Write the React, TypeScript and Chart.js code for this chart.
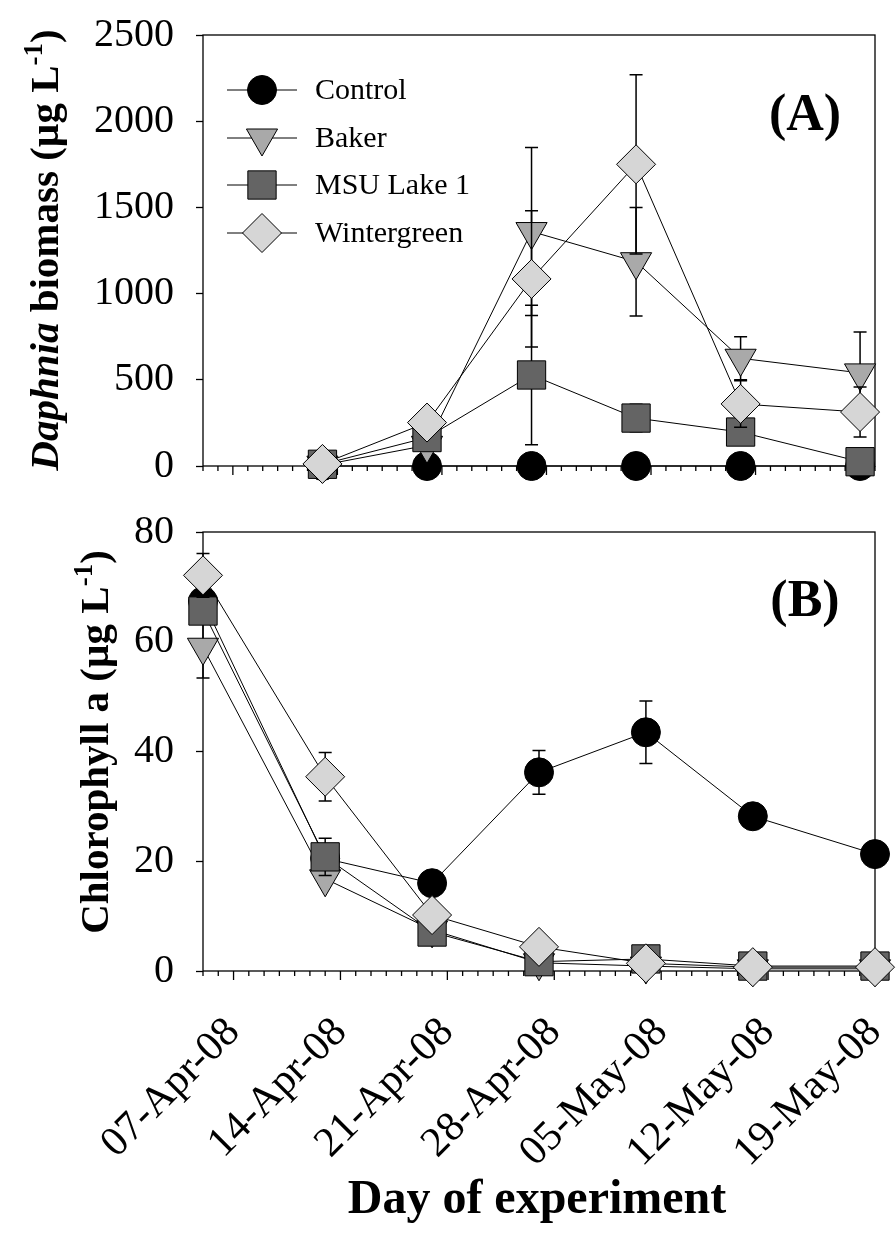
import React, { useEffect, useRef } from 'react';
import { Chart, registerables } from 'chart.js';
import { drawPoint } from 'chart.js/helpers';

Chart.register(...registerables);

const FONT = "'Liberation Serif', 'Times New Roman', serif";

const seriesNames = ['Control', 'Baker', 'MSU Lake 1', 'Wintergreen'];

// Panel A: Daphnia biomass (µg L-1), x = day since 05-Apr-08
const daysA = [8, 15, 22, 29, 36, 44];
const controlA = [0, 0, 0, 0, 0, 0];
const bakerA = [5, 120, 1360, 1185, 625, 540];
const msuA = [10, 165, 528, 278, 197, 25];
const winterA = [12, 252, 1085, 1750, 360, 313];
const controlAErr = [0, 0, 0, 0, 0, 0];
const bakerAErr = [0, 0, 487, 315, 125, 237];
const msuAErr = [0, 0, 405, 80, 30, 0];
const winterAErr = [0, 0, 395, 520, 135, 145];

// Panel B: Chlorophyll a (µg L-1)
const daysB = [0, 8, 15, 22, 29, 36, 44];
const controlB = [67.4, 20.5, 16.0, 36.2, 43.5, 28.2, 21.3];
const bakerB = [59.0, 16.8, 7.5, 1.5, 0.9, 0.4, 0.4];
const msuB = [65.6, 20.8, 7.1, 1.7, 2.2, 0.9, 0.9];
const winterB = [72.1, 35.4, 10.2, 4.4, 1.4, 0.7, 0.7];
const controlBErr = [0, 0, 0, 4.0, 5.7, 0, 0];
const bakerBErr = [5.6, 0, 0, 0, 0, 0, 0];
const msuBErr = [0, 3.4, 0, 0, 0, 0, 0];
const winterBErr = [4.0, 4.4, 0, 0, 0, 0, 0];

const tickDays = [2, 9, 16, 23, 30, 37, 44];
const tickLabels = ['07-Apr-08', '14-Apr-08', '21-Apr-08', '28-Apr-08', '05-May-08', '12-May-08', '19-May-08'];

const yTicksA = [0, 500, 1000, 1500, 2000, 2500];
const yTicksB = [0, 20, 40, 60, 80];

const markerStyles = [
  { pointStyle: 'circle', radius: 14.5, rotation: 0, fill: '#000000' },
  { pointStyle: 'triangle', radius: 18, rotation: 180, fill: '#a9a9a9' },
  { pointStyle: 'rect', radius: 20, rotation: 0, fill: '#646464' },
  { pointStyle: 'rectRot', radius: 19.5, rotation: 0, fill: '#d6d6d6' },
];

function makeDatasets(days: number[], series: number[][], errs: number[][]) {
  return series.map((vals, i) => ({
    label: seriesNames[i],
    data: days.map((d, j) => ({ x: d, y: vals[j] })),
    errors: errs[i],
    borderColor: '#000',
    borderWidth: 1,
    pointStyle: markerStyles[i].pointStyle,
    pointRotation: markerStyles[i].rotation,
    pointRadius: markerStyles[i].radius,
    pointHoverRadius: markerStyles[i].radius,
    pointBackgroundColor: markerStyles[i].fill,
    pointBorderColor: '#000',
    pointBorderWidth: 1,
    fill: false,
    tension: 0,
    clip: false,
    order: 4 - i,
  }));
}

const errorBarPlugin = {
  id: 'errorBars',
  beforeDatasetDraw(chart: any, args: any) {
    const ds = chart.data.datasets[args.index];
    const errs = ds.errors as number[];
    if (!errs) return;
    const ctx = chart.ctx;
    const xs = chart.scales.x;
    const ys = chart.scales.y;
    ctx.save();
    ctx.strokeStyle = '#000';
    ctx.lineWidth = 1.5;
    ds.data.forEach((p: any, j: number) => {
      const e = errs[j];
      if (!e) return;
      const px = xs.getPixelForValue(p.x);
      const yt = ys.getPixelForValue(p.y + e);
      const yb = ys.getPixelForValue(Math.max(p.y - e, 0));
      ctx.beginPath();
      ctx.moveTo(px, yt);
      ctx.lineTo(px, yb);
      ctx.moveTo(px - 6.5, yt);
      ctx.lineTo(px + 6.5, yt);
      ctx.moveTo(px - 6.5, yb);
      ctx.lineTo(px + 6.5, yb);
      ctx.stroke();
    });
    ctx.restore();
  },
};

type Run = { text: string; font: string; dy?: number };

function drawRotatedRuns(ctx: CanvasRenderingContext2D, runs: Run[], cx: number, cy: number) {
  ctx.save();
  ctx.translate(cx, cy);
  ctx.rotate(-Math.PI / 2);
  let total = 0;
  runs.forEach((r) => {
    ctx.font = r.font;
    total += ctx.measureText(r.text).width;
  });
  let x = -total / 2;
  ctx.textAlign = 'left';
  ctx.textBaseline = 'alphabetic';
  ctx.fillStyle = '#000';
  runs.forEach((r) => {
    ctx.font = r.font;
    ctx.fillText(r.text, x, r.dy || 0);
    x += ctx.measureText(r.text).width;
  });
  ctx.restore();
}

function makeDecorPlugin(opts: {
  legend: boolean;
  panelLabel: string;
  labelY: number;
  titleRuns: Run[];
  titleX: number;
  titleY: number;
  xTitle?: string;
}) {
  return {
    id: 'decor',
    beforeDatasetsDraw(chart: any) {
      const { ctx, chartArea } = chart;
      const xs = chart.scales.x;
      ctx.save();
      ctx.strokeStyle = '#000';
      ctx.lineWidth = 1.3;
      ctx.strokeRect(chartArea.left, chartArea.top, chartArea.right - chartArea.left, chartArea.bottom - chartArea.top);
      ctx.beginPath();
      for (let d = Math.ceil(xs.min); d <= xs.max; d++) {
        const px = xs.getPixelForValue(d);
        const major = tickDays.includes(d);
        ctx.moveTo(px, chartArea.bottom);
        ctx.lineTo(px, chartArea.bottom + (major ? 9 : 5));
      }
      ctx.stroke();
      ctx.restore();
    },
    afterDraw(chart: any) {
      const { ctx } = chart;
      ctx.save();
      // panel label
      ctx.fillStyle = '#000';
      ctx.font = `bold 52px ${FONT}`;
      ctx.textAlign = 'center';
      ctx.textBaseline = 'middle';
      ctx.fillText(opts.panelLabel, 805, opts.labelY);
      // y title
      drawRotatedRuns(ctx, opts.titleRuns, opts.titleX, opts.titleY);
      // x title
      if (opts.xTitle) {
        ctx.font = `bold 48px ${FONT}`;
        ctx.textAlign = 'center';
        ctx.textBaseline = 'alphabetic';
        ctx.fillText(opts.xTitle, 537, chart.height - 24);
      }
      // legend
      if (opts.legend) {
        const ys = [90, 138, 185, 233];
        seriesNames.forEach((name, i) => {
          const y = ys[i];
          ctx.strokeStyle = '#000';
          ctx.lineWidth = 1;
          ctx.beginPath();
          ctx.moveTo(227, y);
          ctx.lineTo(297, y);
          ctx.stroke();
          const st = markerStyles[i];
          ctx.fillStyle = st.fill;
          ctx.strokeStyle = '#000';
          ctx.lineWidth = 1;
          drawPoint(ctx, { pointStyle: st.pointStyle as any, rotation: st.rotation, radius: st.radius, borderWidth: 1 }, 262, y);
          ctx.fillStyle = '#000';
          ctx.font = `30px ${FONT}`;
          ctx.textAlign = 'left';
          ctx.textBaseline = 'middle';
          ctx.fillText(name, 315, y + 1);
        });
      }
      ctx.restore();
    },
  };
}

function yAxis(min: number, max: number, ticks: number[], width: number) {
  return {
    type: 'linear',
    min,
    max,
    afterBuildTicks: (scale: any) => {
      scale.ticks = ticks.map((v) => ({ value: v }));
    },
    afterFit: (scale: any) => {
      scale.width = width;
      scale.paddingTop = 0;
      scale.paddingBottom = 0;
      scale.paddingLeft = 0;
      scale.paddingRight = 0;
    },
    ticks: {
      color: '#000',
      font: { family: FONT, size: 40 },
      padding: 22,
      callback: (v: any) => String(v),
    },
    grid: {
      display: true,
      drawOnChartArea: false,
      drawTicks: true,
      tickLength: 7,
      tickColor: '#000',
      tickWidth: 1.3,
      color: '#000',
    },
    border: { display: false },
  };
}

function makeTopConfig(): any {
  return {
    type: 'line',
    data: {
      datasets: makeDatasets(daysA, [controlA, bakerA, msuA, winterA], [controlAErr, bakerAErr, msuAErr, winterAErr]),
    },
    options: {
      animation: false,
      responsive: true,
      maintainAspectRatio: false,
      layout: { padding: { left: 0, right: 11, top: 35, bottom: 0 } },
      plugins: { legend: { display: false }, tooltip: { enabled: false } },
      scales: {
        x: {
          type: 'linear',
          min: 0,
          max: 45,
          ticks: { display: false },
          grid: { display: false, drawTicks: false },
          border: { display: false },
          afterFit: (scale: any) => {
            scale.height = 24;
            scale.paddingLeft = 0;
            scale.paddingRight = 0;
            scale.paddingTop = 0;
            scale.paddingBottom = 0;
          },
        },
        y: yAxis(0, 2500, yTicksA, 203),
      },
    },
    plugins: [
      errorBarPlugin,
      makeDecorPlugin({
        legend: true,
        panelLabel: '(A)',
        labelY: 117,
        titleX: 58,
        titleY: 250,
        titleRuns: [
          { text: 'Daphnia', font: `italic bold 41px ${FONT}` },
          { text: ' biomass (µg L', font: `bold 41px ${FONT}` },
          { text: '-1', font: `bold 27px ${FONT}`, dy: -16 },
          { text: ')', font: `bold 41px ${FONT}` },
        ],
      }),
    ],
  };
}

function makeBottomConfig(): any {
  return {
    type: 'line',
    data: {
      datasets: makeDatasets(daysB, [controlB, bakerB, msuB, winterB], [controlBErr, bakerBErr, msuBErr, winterBErr]),
    },
    options: {
      animation: false,
      responsive: true,
      maintainAspectRatio: false,
      layout: { padding: { left: 0, right: 10, top: 42, bottom: 0 } },
      plugins: { legend: { display: false }, tooltip: { enabled: false } },
      scales: {
        x: {
          type: 'linear',
          min: 0,
          max: 44,
          afterBuildTicks: (scale: any) => {
            scale.ticks = tickDays.map((v) => ({ value: v }));
          },
          ticks: {
            autoSkip: false,
            minRotation: 45,
            maxRotation: 45,
            color: '#000',
            font: { family: FONT, size: 42 },
            padding: 37,
            callback: (_v: any, i: number) => tickLabels[i],
          },
          grid: { display: false, drawTicks: false },
          border: { display: false },
          afterFit: (scale: any) => {
            scale.height = 266;
            scale.paddingLeft = 0;
            scale.paddingRight = 0;
            scale.paddingTop = 0;
            scale.paddingBottom = 0;
          },
        },
        y: yAxis(0, 80, yTicksB, 203),
      },
    },
    plugins: [
      errorBarPlugin,
      makeDecorPlugin({
        legend: false,
        panelLabel: '(B)',
        labelY: 113,
        titleX: 108,
        titleY: 252,
        xTitle: 'Day of experiment',
        titleRuns: [
          { text: 'Chlorophyll a (µg L', font: `bold 41px ${FONT}` },
          { text: '-1', font: `bold 27px ${FONT}`, dy: -16 },
          { text: ')', font: `bold 41px ${FONT}` },
        ],
      }),
    ],
  };
}

export default function App() {
  const topRef = useRef<HTMLCanvasElement>(null);
  const botRef = useRef<HTMLCanvasElement>(null);

  useEffect(() => {
    const c1 = new Chart(topRef.current as HTMLCanvasElement, makeTopConfig());
    const c2 = new Chart(botRef.current as HTMLCanvasElement, makeBottomConfig());
    return () => {
      c1.destroy();
      c2.destroy();
    };
  }, []);

  return (
    <div style={{ position: 'fixed', left: 0, top: 0, width: 896, height: 1237, background: '#fff' }}>
      <div style={{ position: 'absolute', left: 0, top: 0, width: 896, height: 490 }}>
        <canvas ref={topRef} />
      </div>
      <div style={{ position: 'absolute', left: 0, top: 490, width: 896, height: 747 }}>
        <canvas ref={botRef} />
      </div>
    </div>
  );
}
